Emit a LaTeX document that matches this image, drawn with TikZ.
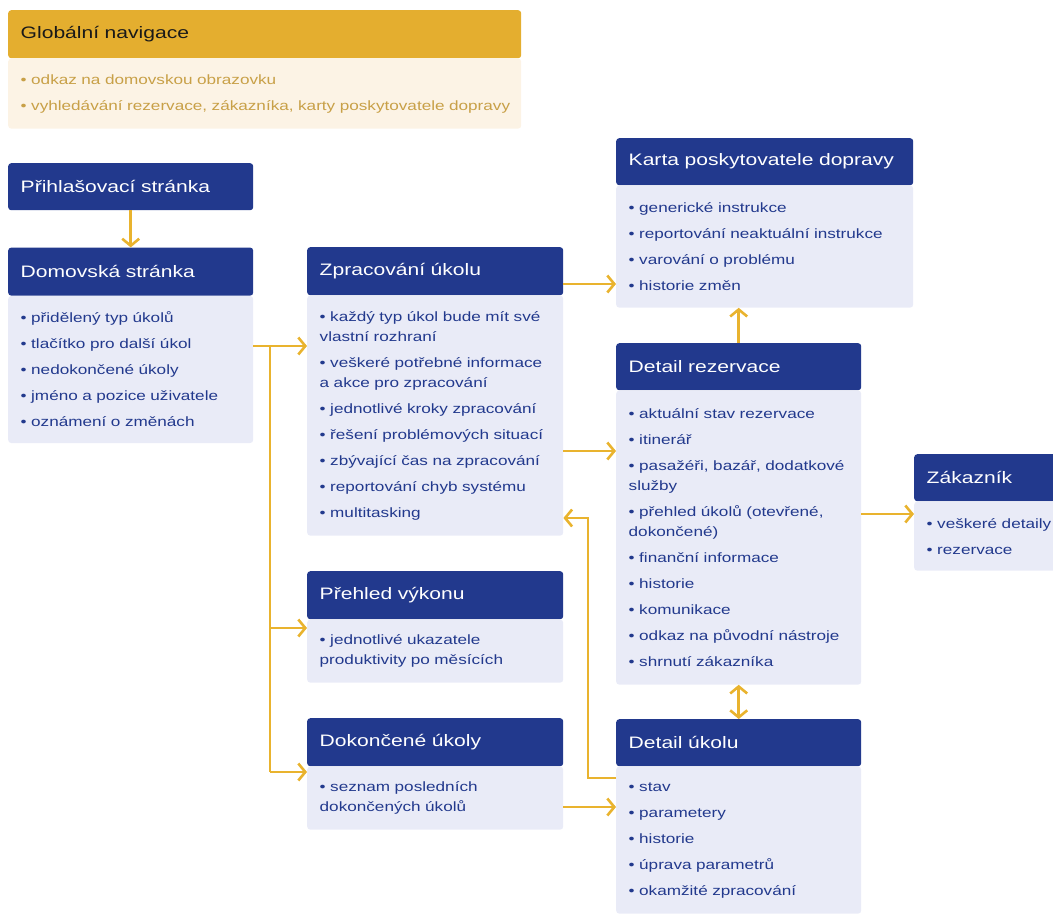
\documentclass[tikz,border=0pt]{standalone}
\usepackage{fontspec}
\setmainfont{Liberation Sans}[FakeStretch=1.27]
\usetikzlibrary{positioning}
\usetikzlibrary{arrows.meta}

\definecolor{navy}{HTML}{22398D}
\definecolor{paleblue}{HTML}{E9EBF7}
\definecolor{navgold}{HTML}{E4AE2F}
\definecolor{cream}{HTML}{FCF3E5}
\definecolor{goldtext}{HTML}{C8A047}
\definecolor{linkgold}{HTML}{E9B32E}

\newcommand{\headfont}{\fontsize{16.6}{20}\selectfont}
\newcommand{\itemfont}{\fontsize{13.5}{20}\selectfont}

\tikzset{
  head/.style={fill=navy, text=white, font=\headfont, anchor=north west,
    align=left, inner xsep=12.5pt, inner ysep=0pt, minimum height=48pt,
    rounded corners=3pt},
  body/.style={fill=paleblue, text=navy, font=\itemfont, anchor=north west,
    align=left, inner xsep=12.5pt, inner ysep=0pt, rounded corners=3pt},
  boxw/.style={text width=#1pt-25pt},
  navhead/.style={fill=navgold, text=black!90},
  navbody/.style={fill=cream, text=goldtext},
  link/.style={draw=linkgold, line width=2.6pt},
  arr/.style={link, -{Straight Barb[length=7pt, width=17pt]}},
  dbl/.style={link, {Straight Barb[length=7pt, width=17pt]}-{Straight Barb[length=7pt, width=17pt]}}
}

\begin{document}
\begin{tikzpicture}[x=1pt,y=1pt]
\useasboundingbox (0,0) rectangle (1053,-914);
\clip (0,0) rectangle (1053,-914);

% global navigation
\node[head, navhead, boxw=513] (glob) at (8,-10) {Globální navigace};
\node[body, navbody, boxw=513, minimum height=70pt, below=0pt of glob] (globB)
  {• odkaz na domovskou obrazovku\\[6pt]
   \mbox{• vyhledávání rezervace, zákazníka, karty poskytovatele dopravy}};

% left column
\node[head, boxw=245, minimum height=47pt] (prihl) at (8,-163) {Přihlašovací stránka};
\node[head, boxw=245, below=37pt of prihl] (domov) {Domovská stránka};
\node[body, boxw=245, minimum height=147pt, below=0pt of domov] (domovB)
  {• přidělený typ úkolů\\[6pt]
   • tlačítko pro další úkol\\[6pt]
   • nedokončené úkoly\\[6pt]
   • jméno a pozice uživatele\\[6pt]
   • oznámení o změnách};

% middle column
\node[head, boxw=256] (zprac) at (307,-247) {Zpracování úkolu};
\node[body, boxw=256, minimum height=240pt, below=0pt of zprac] (zpracB)
  {• každý typ úkol bude mít své\\
   vlastní rozhraní\\[6pt]
   • veškeré potřebné informace\\
   a akce pro zpracování\\[6pt]
   • jednotlivé kroky zpracování\\[6pt]
   • řešení problémových situací\\[6pt]
   • zbývající čas na zpracování\\[6pt]
   • reportování chyb systému\\[6pt]
   • multitasking};

\node[head, boxw=256] (prehl) at (307,-571) {Přehled výkonu};
\node[body, boxw=256, minimum height=63pt, below=0pt of prehl] (prehlB)
  {• jednotlivé ukazatele\\
   produktivity po měsících};

\node[head, boxw=256] (dokon) at (307,-718) {Dokončené úkoly};
\node[body, boxw=256, minimum height=63pt, below=0pt of dokon] (dokonB)
  {• seznam posledních\\
   dokončených úkolů};

% right column
\node[head, boxw=297, minimum height=47pt] (karta) at (616,-138) {Karta poskytovatele dopravy};
\node[body, boxw=297, minimum height=122pt, below=0pt of karta] (kartaB)
  {• generické instrukce\\[6pt]
   • reportování neaktuální instrukce\\[6pt]
   • varování o problému\\[6pt]
   • historie změn};

\node[head, boxw=245, minimum height=47pt] (detrez) at (616,-343) {Detail rezervace};
\node[body, boxw=245, minimum height=294pt, below=0pt of detrez] (detrezB)
  {• aktuální stav rezervace\\[6pt]
   • itinerář\\[6pt]
   • pasažéři, bazář, dodatkové\\
   služby\\[6pt]
   • přehled úkolů (otevřené,\\
   dokončené)\\[6pt]
   • finanční informace\\[6pt]
   • historie\\[6pt]
   • komunikace\\[6pt]
   • odkaz na původní nástroje\\[6pt]
   • shrnutí zákazníka};

\node[head, boxw=245, minimum height=47pt] (detuk) at (616,-719) {Detail úkolu};
\node[body, boxw=245, minimum height=147pt, below=0pt of detuk] (detukB)
  {• stav\\[6pt]
   • parametery\\[6pt]
   • historie\\[6pt]
   • úprava parametrů\\[6pt]
   • okamžité zpracování};

\node[head, boxw=245, minimum height=47pt] (zakaz) at (914,-454) {Zákazník};
\node[body, boxw=245, minimum height=69pt, below=0pt of zakaz] (zakazB)
  {• veškeré detaily\\[6pt]
   • rezervace};

% connector rows
\coordinate (fork) at (270,-346);
\coordinate (prehIn) at (300,-628);
\coordinate (dokIn) at (300,-772);
\coordinate (row1) at (590,-284);
\coordinate (row2) at (590,-451);
\coordinate (bend) at (588,-518);
\coordinate (row3) at (600,-778);
\coordinate (row4) at (590,-807);
\coordinate (row5) at (890,-514);

% connectors
\draw[arr] (prihl) -- (domov);
\draw[link] (fork -| domovB.east) -- (fork) -- (fork |- dokIn);
\draw[arr] (fork) -- (fork -| zprac.west);
\draw[arr] (fork |- prehIn) -- (prehIn -| prehlB.west);
\draw[arr] (fork |- dokIn) -- (dokIn -| dokonB.west);
\draw[arr] (row1 -| zprac.east) -- (row1 -| kartaB.west);
\draw[arr] (row2 -| zpracB.east) -- (row2 -| detrezB.west);
\draw[arr] (row3 -| detukB.west) -| (bend) -- (bend -| zpracB.east);
\draw[arr] (row4 -| dokonB.east) -- (row4 -| detukB.west);
\draw[arr] (detrez.north) -- (detrez.north |- kartaB.south);
\draw[dbl] (detrezB.south) -- (detuk.north);
\draw[arr] (row5 -| detrezB.east) -- (row5 -| zakazB.west);

\end{tikzpicture}
\end{document}
